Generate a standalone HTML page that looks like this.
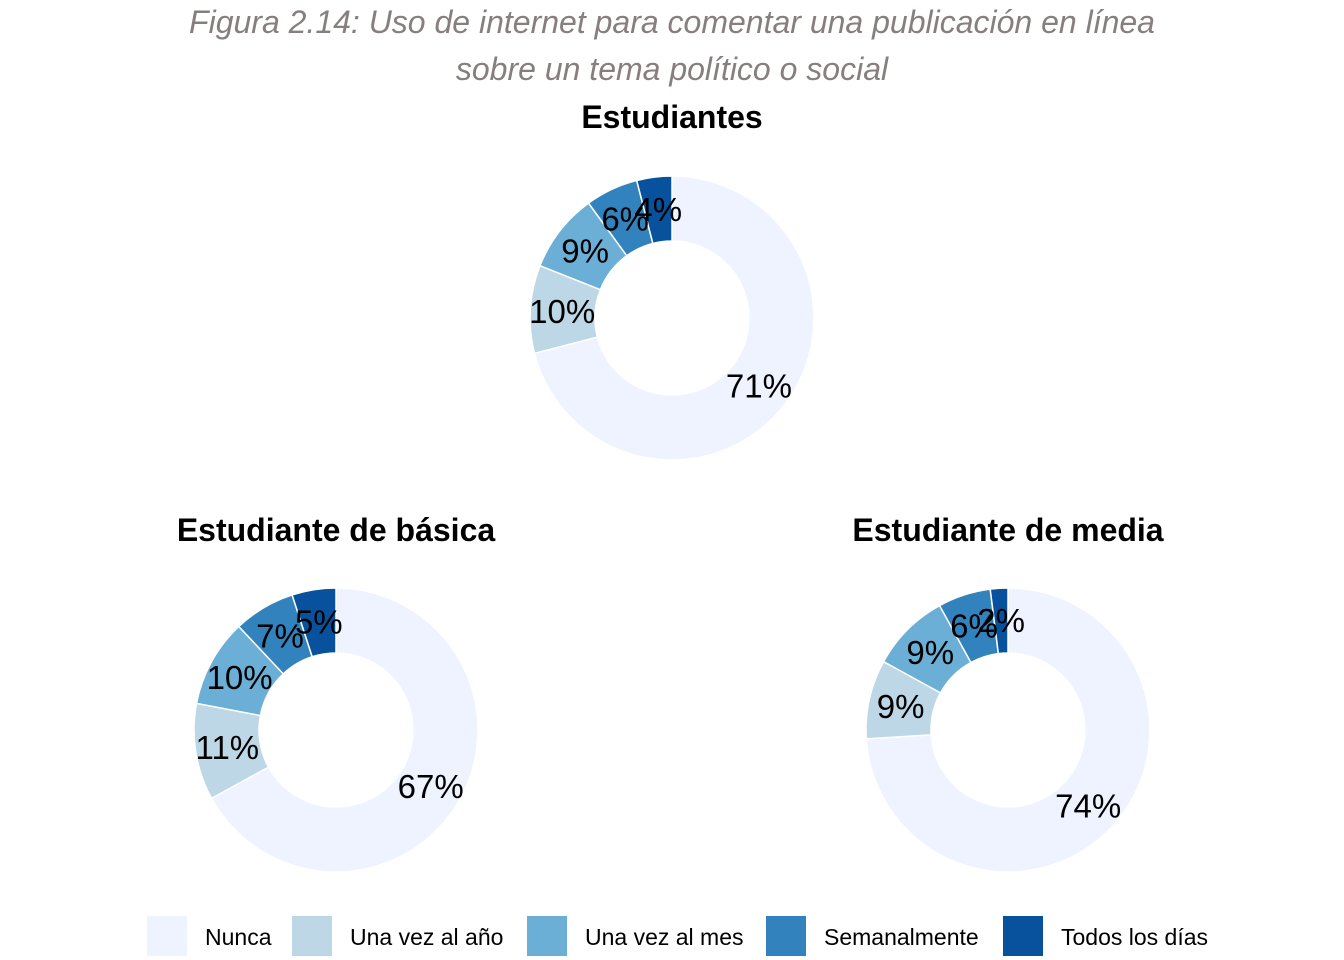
<!DOCTYPE html>
<html><head><meta charset="utf-8">
<style>
body{margin:0;background:#fff;font-family:"Liberation Sans",Arial,sans-serif;}
svg{display:block}
</style></head>
<body>
<svg id="chart" width="1344" height="960">
<text x="672" y="33" text-anchor="middle" font-size="32" font-style="italic" fill="#877e7e">Figura 2.14: Uso de internet para comentar una publicación en línea</text>
<text x="672" y="80" text-anchor="middle" font-size="32" font-style="italic" fill="#877e7e">sobre un tema político o social</text>
<g id="panels"></g>
<g id="legend"></g>
</svg>
<script>
const categories=["Nunca","Una vez al año","Una vez al mes","Semanalmente","Todos los días"];
const colors=["#EFF3FF","#BDD7E7","#6BAED6","#3182BD","#08519C"];
const panelTitles=["Estudiantes","Estudiante de básica","Estudiante de media"];
const valuesEstudiantes=[71,10,9,6,4];
const valuesBasica=[67,11,10,7,5];
const valuesMedia=[74,9,9,6,2];
const NS="http://www.w3.org/2000/svg";
const panelsG=document.getElementById('panels');
const layout=[{cx:672,cy:318,ty:128},{cx:336,cy:730,ty:541},{cx:1008,cy:730,ty:541}];
const allValues=[valuesEstudiantes,valuesBasica,valuesMedia];
const R=142,r=77,LR=110;
function pt(cx,cy,rad,f){const a=f*2*Math.PI;return [cx+rad*Math.sin(a),cy-rad*Math.cos(a)];}
allValues.forEach((vals,p)=>{
  const L=layout[p];
  const g=document.createElementNS(NS,'g');
  
  
  panelsG.appendChild(g);
  const t=document.createElementNS(NS,'text');
  
  
  t.setAttribute('x',L.cx);t.setAttribute('y',L.ty);t.setAttribute('text-anchor','middle');
  t.setAttribute('font-size','32');t.setAttribute('font-weight','bold');t.textContent=panelTitles[p];
  g.appendChild(t);
  const total=vals.reduce((a,b)=>a+b,0);
  let acc=0;const labels=[];
  vals.forEach((v,i)=>{
    const f0=acc/total,f1=(acc+v)/total;acc+=v;
    const [x0,y0]=pt(L.cx,L.cy,R,f0),[x1,y1]=pt(L.cx,L.cy,R,f1);
    const [x2,y2]=pt(L.cx,L.cy,r,f1),[x3,y3]=pt(L.cx,L.cy,r,f0);
    const large=(f1-f0)>0.5?1:0;
    const path=document.createElementNS(NS,'path');
    
    
    path.setAttribute('d',`M${x0},${y0}A${R},${R} 0 ${large} 1 ${x1},${y1}L${x2},${y2}A${r},${r} 0 ${large} 0 ${x3},${y3}Z`);
    path.setAttribute('fill',colors[i]);path.setAttribute('stroke','#fff');path.setAttribute('stroke-width','1.5');
    g.appendChild(path);
    const [lx,ly]=pt(L.cx,L.cy,LR,(f0+f1)/2);
    labels.push([lx,ly,Math.round(v/total*100)+'%']);
  });
  labels.forEach(l=>{
    const tx=document.createElementNS(NS,'text');
    
    
    tx.setAttribute('x',l[0]);tx.setAttribute('y',l[1]+12);tx.setAttribute('text-anchor','middle');
    tx.setAttribute('font-size','33');tx.setAttribute('fill','#000');tx.textContent=l[2];
    g.appendChild(tx);
  });
});
const legendG=document.getElementById('legend');
const lx=[147,292,527,766,1003];
categories.forEach((c,i)=>{
  const rect=document.createElementNS(NS,'rect');
  
  
  rect.setAttribute('x',lx[i]);rect.setAttribute('y',916);rect.setAttribute('width',40);rect.setAttribute('height',40);
  rect.setAttribute('fill',colors[i]);
  legendG.appendChild(rect);
  const t=document.createElementNS(NS,'text');
  
  
  t.setAttribute('x',lx[i]+58);t.setAttribute('y',945);t.setAttribute('font-size','23');t.textContent=c;
  legendG.appendChild(t);
});
</script>
</body></html>
